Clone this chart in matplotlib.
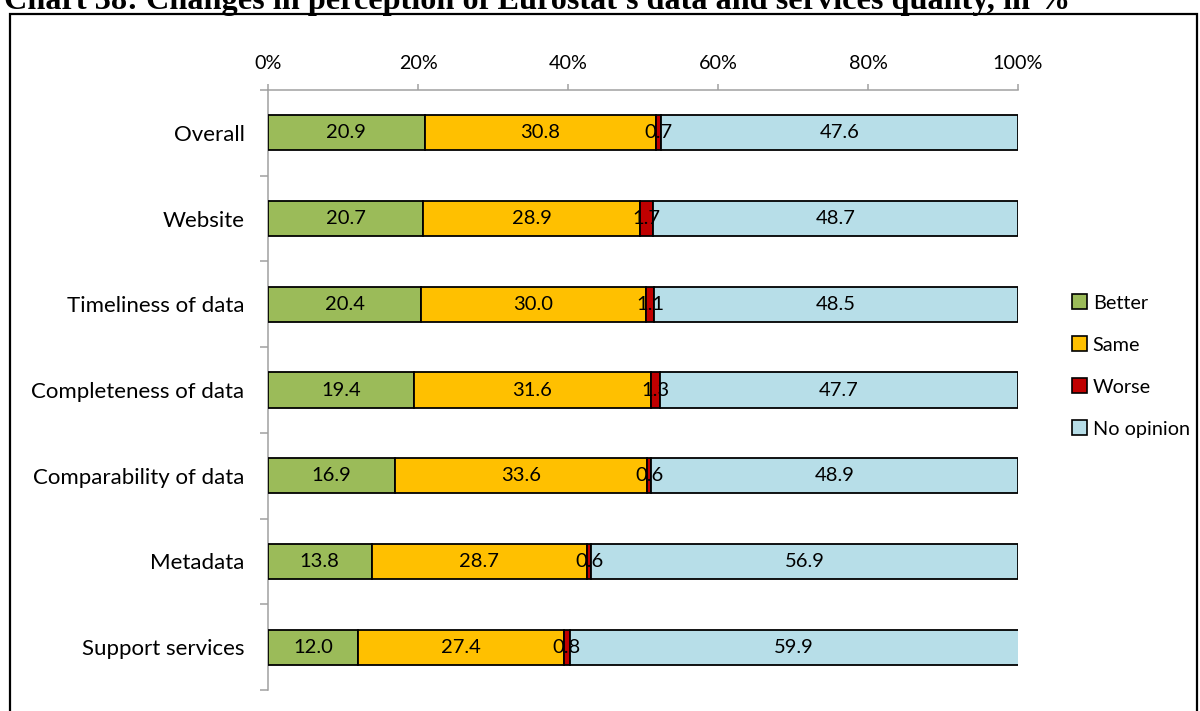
import matplotlib
matplotlib.use("Agg")
import matplotlib.pyplot as plt
from matplotlib.patches import Rectangle, Patch
from matplotlib.ticker import FixedLocator, PercentFormatter
import numpy as np

categories = ["Overall", "Website", "Timeliness of data", "Completeness of data",
              "Comparability of data", "Metadata", "Support services"]
better = [20.9, 20.7, 20.4, 19.4, 16.9, 13.8, 12.0]
same = [30.8, 28.9, 30.0, 31.6, 33.6, 28.7, 27.4]
worse = [0.7, 1.7, 1.1, 1.3, 0.6, 0.6, 0.8]
no_opinion = [47.6, 48.7, 48.5, 47.7, 48.9, 56.9, 59.9]
series_names = ["Better", "Same", "Worse", "No opinion"]
series_colors = ["#9BBB59", "#FFC000", "#C00000", "#B7DEE8"]
x_ticks = [0, 20, 40, 60, 80, 100]
title = "Chart 38: Changes in perception of Eurostat's data and services quality, in %"

plt.rcParams["font.family"] = ["Lato", "DejaVu Sans"]
FS_CAT = 16
FS_VAL = 14.5
FS_TICK = 14.2
FS_LEG = 14.3

fig = plt.figure(figsize=(12, 7.11), dpi=100)
ax = fig.add_axes([268 / 1200, 1 - 690 / 711, 750 / 1200, 600 / 711])

y = np.arange(len(categories))
left = np.zeros(len(categories))
for name, vals, col in zip(series_names, [better, same, worse, no_opinion], series_colors):
    vals = np.array(vals)
    ax.barh(y, vals, left=left, height=0.41, color=col, edgecolor="black",
            linewidth=1.3, label=name, zorder=3)
    for yi, l, v in zip(y, left, vals):
        ax.text(l + v / 2, yi, f"{v:.1f}", ha="center", va="center",
                fontsize=FS_VAL, color="#000000", zorder=4)
    left = left + vals

ax.set_xlim(0, 100)
ax.set_ylim(len(categories) - 0.5, -0.5)

ax.xaxis.tick_top()
ax.set_xticks(x_ticks)
ax.xaxis.set_major_formatter(PercentFormatter(decimals=0))
ax.tick_params(axis="x", which="major", direction="out", length=4, width=1.1,
               color="#A0A0A0", labelsize=FS_TICK, pad=9)

ax.set_yticks(y)
ax.set_yticklabels(categories)
ax.tick_params(axis="y", which="major", length=0, labelsize=FS_CAT, pad=17)
ax.yaxis.set_minor_locator(FixedLocator(np.arange(-0.5, len(categories) + 0.5, 1.0)))
ax.tick_params(axis="y", which="minor", direction="out", length=6, width=1.1,
               color="#A0A0A0")

for s in ["right", "bottom"]:
    ax.spines[s].set_visible(False)
for s in ["left", "top"]:
    ax.spines[s].set_color("#A0A0A0")
    ax.spines[s].set_linewidth(1.1)

handles = [Patch(facecolor=c, edgecolor="black", linewidth=1.2, label=n)
           for n, c in zip(series_names, series_colors)]
fig.legend(handles=handles, loc="center left", bbox_to_anchor=(1062 / 1200, 1 - 366 / 711),
           frameon=False, fontsize=FS_LEG, handlelength=0.75, handleheight=0.75,
           handletextpad=0.3, labelspacing=1.25, borderpad=0)

# outer frame around the chart area
fig.patches.append(Rectangle((10 / 1200, -0.1), (1197 - 10) / 1200, 1.1 - 14 / 711,
                             transform=fig.transFigure, fill=False,
                             edgecolor="black", linewidth=1.6))

fig.text(4 / 1200, 1 - 9 / 711, title, ha="left", va="baseline",
         fontsize=23.2, fontweight="bold", family="Liberation Serif")

fig.savefig("out.png", dpi=100)
